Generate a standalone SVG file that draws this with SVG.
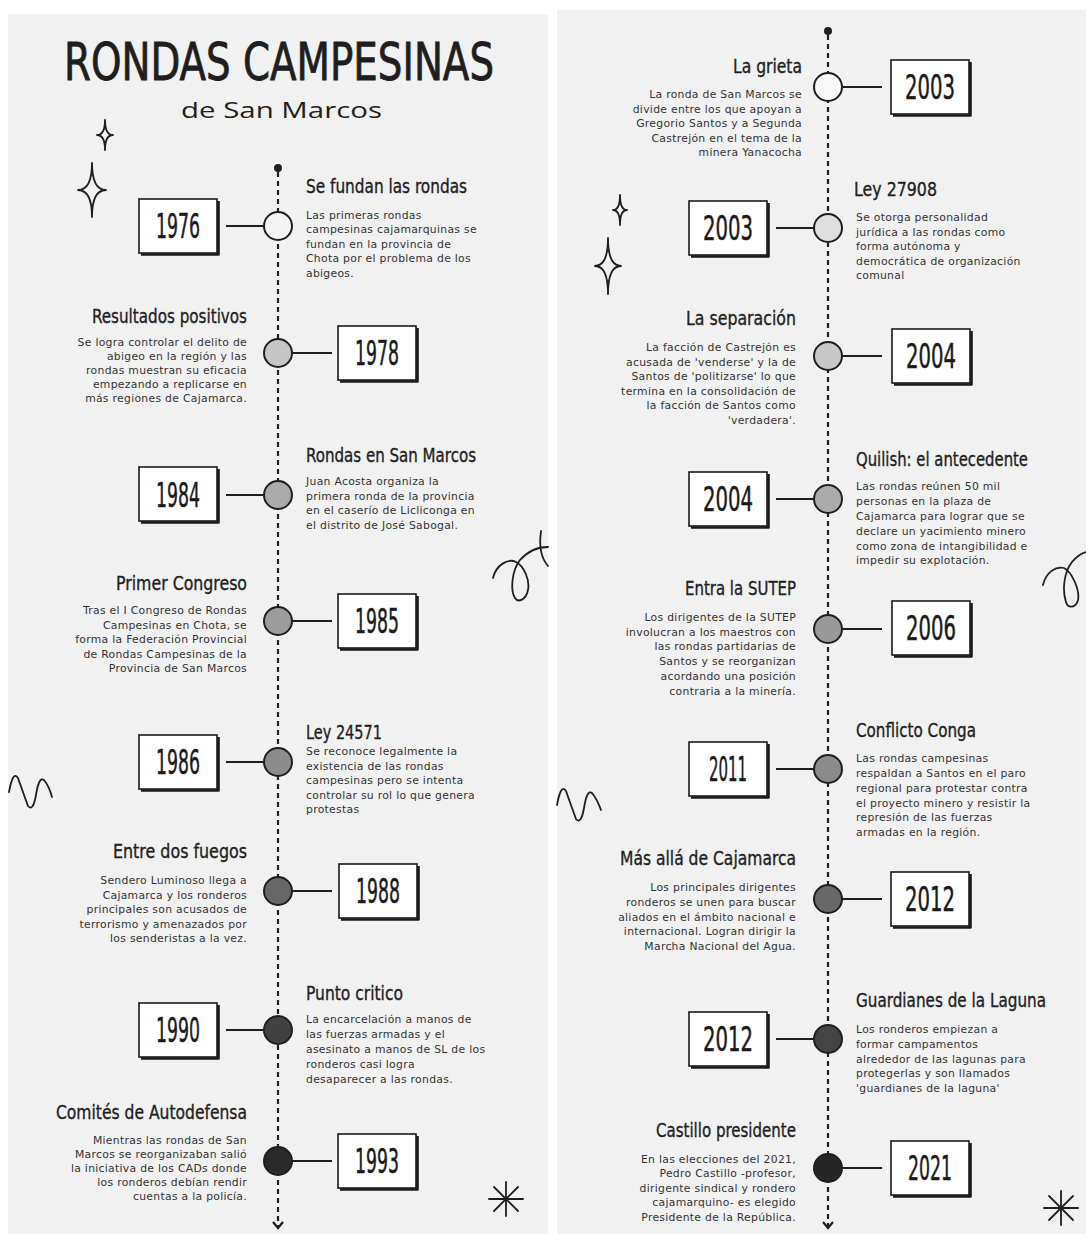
<svg xmlns="http://www.w3.org/2000/svg" width="1086" height="1234" viewBox="0 0 1086 1234">
<style>
.bg{fill:#f1f1f1}
.title{font-family:"Liberation Sans Narrow","DejaVu Sans Condensed","Liberation Sans",sans-serif;font-stretch:condensed;fill:#1e1e1e;stroke:#1e1e1e;stroke-width:0.8}
.sub{font-family:"Open Sans","Noto Sans",sans-serif;font-size:22px;fill:#1e1e1e}
.h{font-family:"Liberation Sans Narrow","DejaVu Sans Condensed","Liberation Sans",sans-serif;font-stretch:condensed;font-size:20px;fill:#1e1e1e;stroke:#1e1e1e;stroke-width:0.35}
.b{font-family:"DejaVu Sans","Noto Sans",sans-serif;font-size:10.8px;letter-spacing:0.3px;fill:#333333}
.r{text-anchor:end}
.yr{font-family:"Liberation Sans Narrow","DejaVu Sans Condensed","Liberation Sans",sans-serif;font-stretch:condensed;font-size:34px;fill:#1a1a1a;stroke:#1a1a1a;stroke-width:0.5;text-anchor:middle}
.box{fill:#fff;stroke:#1a1a1a;stroke-width:1.6}
.sh{fill:none;stroke:#1a1a1a;stroke-width:2.6;stroke-linejoin:round}
.dot{stroke:#1e1e1e;stroke-width:2}
.tl{stroke:#1e1e1e;stroke-width:2.2;stroke-dasharray:5 4;fill:none}
.cn{stroke:#1e1e1e;stroke-width:2.2;fill:none}
.deco{fill:none;stroke:#1e1e1e;stroke-width:1.8;stroke-linecap:round;stroke-linejoin:round}
</style>
<defs>
<g id="boxshape">
<rect class="box" x="0" y="0" width="78" height="54"/>
<polyline class="sh" points="79.5,2 79.5,55.5 2,55.5"/>
</g>
</defs>
<rect x="0" y="0" width="1086" height="1234" fill="#ffffff"/>
<rect class="bg" x="8" y="14" width="540" height="1220"/>
<rect class="bg" x="557" y="10" width="529" height="1224"/>

<!-- title -->
<g id="title">
<text class="title" x="64" y="80" font-size="52" textLength="430" lengthAdjust="spacingAndGlyphs">RONDAS CAMPESINAS</text>
<text class="sub" x="181" y="118" textLength="201" lengthAdjust="spacingAndGlyphs">de San Marcos</text>
</g>

<!-- decorations -->
<g id="decorations">
<path class="deco" d="M105,120 Q105,135 113,135 Q105,135 105,150 Q105,135 97,135 Q105,135 105,120 Z"/>
<path class="deco" d="M92,163 Q92,190 106,190 Q92,190 92,217 Q92,190 78,190 Q92,190 92,163 Z"/>
<path class="deco" d="M620,195 Q620,210 627,210 Q620,210 620,225 Q620,210 613,210 Q620,210 620,195 Z"/>
<path class="deco" d="M608,238 Q608,266 621,266 Q608,266 608,294 Q608,266 595,266 Q608,266 608,238 Z"/>
<path class="deco" d="M493,578 C496,565 508,558 516,562 C524,566 530,580 528,590 C526,600 518,603 515,598 C510,590 512,570 520,560 C528,551 538,547 548,547"/>
<path class="deco" d="M541,531 C539,545 541,558 548,566"/>
<path class="deco" d="M1043,585 C1046,572 1056,566 1064,568 C1072,572 1080,590 1078,600 C1076,608 1068,609 1066,602 C1062,590 1064,572 1072,562 C1077,556 1082,553 1086,552"/>
<path class="deco" d="M9,792 Q13,770 18,778 Q24,795 28,806 Q33,812 36,795 Q39,776 44,780 Q49,786 52,797"/>
<path class="deco" d="M557,805 Q561,783 566,791 Q572,808 576,819 Q581,825 584,808 Q587,789 592,793 Q597,799 601,810"/>
<g class="deco">
<line x1="489" y1="1199" x2="523" y2="1199"/>
<line x1="506" y1="1182" x2="506" y2="1216"/>
<line x1="494" y1="1187" x2="518" y2="1211"/>
<line x1="518" y1="1187" x2="494" y2="1211"/>
</g>
<g class="deco">
<line x1="1044" y1="1208" x2="1078" y2="1208"/>
<line x1="1061" y1="1191" x2="1061" y2="1225"/>
<line x1="1049" y1="1196" x2="1073" y2="1220"/>
<line x1="1073" y1="1196" x2="1049" y2="1220"/>
</g>
</g>

<!-- connectors -->
<g id="connectors">
<line class="tl" x1="278" y1="172" x2="278" y2="1226"/>
<circle cx="278" cy="168" r="4" fill="#1e1e1e"/>
<path class="cn" d="M273,1222 L278,1228 L283,1222"/>
<line class="tl" x1="828" y1="35" x2="828" y2="1226"/>
<circle cx="828" cy="31" r="4" fill="#1e1e1e"/>
<path class="cn" d="M823,1222 L828,1228 L833,1222"/>
<line class="cn" x1="226" y1="226" x2="264" y2="226"/>
<line class="cn" x1="292" y1="353" x2="332" y2="353"/>
<line class="cn" x1="226" y1="495" x2="264" y2="495"/>
<line class="cn" x1="292" y1="621" x2="332" y2="621"/>
<line class="cn" x1="226" y1="762" x2="264" y2="762"/>
<line class="cn" x1="292" y1="891" x2="332" y2="891"/>
<line class="cn" x1="226" y1="1030" x2="264" y2="1030"/>
<line class="cn" x1="292" y1="1161" x2="332" y2="1161"/>
<line class="cn" x1="842" y1="87" x2="882" y2="87"/>
<line class="cn" x1="776" y1="228" x2="814" y2="228"/>
<line class="cn" x1="842" y1="356" x2="882" y2="356"/>
<line class="cn" x1="776" y1="499" x2="814" y2="499"/>
<line class="cn" x1="842" y1="629" x2="882" y2="629"/>
<line class="cn" x1="776" y1="769" x2="814" y2="769"/>
<line class="cn" x1="842" y1="899" x2="882" y2="899"/>
<line class="cn" x1="776" y1="1039" x2="814" y2="1039"/>
<line class="cn" x1="842" y1="1168" x2="882" y2="1168"/>
</g>

<!-- LEFT PANEL EVENTS -->
<g id="e1976">
<use href="#boxshape" x="139" y="199"/>
<text class="yr" x="178" y="238" textLength="44" lengthAdjust="spacingAndGlyphs">1976</text>
<circle class="dot" cx="278" cy="226" r="14" fill="#f3f3f3"/>
<text class="h" x="306" y="193" textLength="161" lengthAdjust="spacingAndGlyphs">Se fundan las rondas</text>
<text class="b" x="306" y="219">Las primeras rondas</text>
<text class="b" x="306" y="233">campesinas cajamarquinas se</text>
<text class="b" x="306" y="247.5">fundan en la provincia de</text>
<text class="b" x="306" y="262">Chota por el problema de los</text>
<text class="b" x="306" y="276.5">abigeos.</text>
</g>

<g id="e1978">
<use href="#boxshape" x="338" y="326"/>
<text class="yr" x="377" y="365" textLength="44" lengthAdjust="spacingAndGlyphs">1978</text>
<circle class="dot" cx="278" cy="353" r="14" fill="#c6c6c6"/>
<text class="h r" x="247" y="323" textLength="155" lengthAdjust="spacingAndGlyphs">Resultados positivos</text>
<text class="b r" x="247" y="346">Se logra controlar el delito de</text>
<text class="b r" x="247" y="360">abigeo en la región y las</text>
<text class="b r" x="247" y="374">rondas muestran su eficacia</text>
<text class="b r" x="247" y="388">empezando a replicarse en</text>
<text class="b r" x="247" y="402">más regiones de Cajamarca.</text>
</g>

<g id="e1984">
<use href="#boxshape" x="139" y="467"/>
<text class="yr" x="178" y="507" textLength="44" lengthAdjust="spacingAndGlyphs">1984</text>
<circle class="dot" cx="278" cy="495" r="14" fill="#ababab"/>
<text class="h" x="306" y="462" textLength="170" lengthAdjust="spacingAndGlyphs">Rondas en San Marcos</text>
<text class="b" x="306" y="485">Juan Acosta organiza la</text>
<text class="b" x="306" y="499.5">primera ronda de la provincia</text>
<text class="b" x="306" y="514">en el caserío de Licliconga en</text>
<text class="b" x="306" y="528.5">el distrito de José Sabogal.</text>
</g>

<g id="e1985">
<use href="#boxshape" x="338" y="594"/>
<text class="yr" x="377" y="633" textLength="44" lengthAdjust="spacingAndGlyphs">1985</text>
<circle class="dot" cx="278" cy="621" r="14" fill="#9c9c9c"/>
<text class="h r" x="247" y="590" textLength="131" lengthAdjust="spacingAndGlyphs">Primer Congreso</text>
<text class="b r" x="247" y="614">Tras el I Congreso de Rondas</text>
<text class="b r" x="247" y="628.5">Campesinas en Chota, se</text>
<text class="b r" x="247" y="643">forma la Federación Provincial</text>
<text class="b r" x="247" y="657.5">de Rondas Campesinas de la</text>
<text class="b r" x="247" y="672">Provincia de San Marcos</text>
</g>

<g id="e1986">
<use href="#boxshape" x="139" y="735"/>
<text class="yr" x="178" y="774" textLength="44" lengthAdjust="spacingAndGlyphs">1986</text>
<circle class="dot" cx="278" cy="762" r="14" fill="#8c8c8c"/>
<text class="h" x="306" y="739" textLength="76" lengthAdjust="spacingAndGlyphs">Ley 24571</text>
<text class="b" x="306" y="755">Se reconoce legalmente la</text>
<text class="b" x="306" y="769.5">existencia de las rondas</text>
<text class="b" x="306" y="784">campesinas pero se intenta</text>
<text class="b" x="306" y="798.5">controlar su rol lo que genera</text>
<text class="b" x="306" y="813">protestas</text>
</g>

<g id="e1988">
<use href="#boxshape" x="339" y="864"/>
<text class="yr" x="378" y="903" textLength="44" lengthAdjust="spacingAndGlyphs">1988</text>
<circle class="dot" cx="278" cy="891" r="14" fill="#676767"/>
<text class="h r" x="247" y="858" textLength="134" lengthAdjust="spacingAndGlyphs">Entre dos fuegos</text>
<text class="b r" x="247" y="884">Sendero Luminoso llega a</text>
<text class="b r" x="247" y="898.5">Cajamarca y los ronderos</text>
<text class="b r" x="247" y="913">principales son acusados de</text>
<text class="b r" x="247" y="927.5">terrorismo y amenazados por</text>
<text class="b r" x="247" y="942">los senderistas a la vez.</text>
</g>

<g id="e1990">
<use href="#boxshape" x="139" y="1003"/>
<text class="yr" x="178" y="1042" textLength="44" lengthAdjust="spacingAndGlyphs">1990</text>
<circle class="dot" cx="278" cy="1030" r="14" fill="#414141"/>
<text class="h" x="306" y="1000" textLength="97" lengthAdjust="spacingAndGlyphs">Punto critico</text>
<text class="b" x="306" y="1023">La encarcelación a manos de</text>
<text class="b" x="306" y="1038">las fuerzas armadas y el</text>
<text class="b" x="306" y="1053">asesinato a manos de SL de los</text>
<text class="b" x="306" y="1068">ronderos casi logra</text>
<text class="b" x="306" y="1083">desaparecer a las rondas.</text>
</g>

<g id="e1993">
<use href="#boxshape" x="338" y="1134"/>
<text class="yr" x="377" y="1173" textLength="44" lengthAdjust="spacingAndGlyphs">1993</text>
<circle class="dot" cx="278" cy="1161" r="14" fill="#2a2a2a"/>
<text class="h r" x="247" y="1119" textLength="191" lengthAdjust="spacingAndGlyphs">Comités de Autodefensa</text>
<text class="b r" x="247" y="1144">Mientras las rondas de San</text>
<text class="b r" x="247" y="1158">Marcos se reorganizaban salió</text>
<text class="b r" x="247" y="1172">la iniciativa de los CADs donde</text>
<text class="b r" x="247" y="1186">los ronderos debían rendir</text>
<text class="b r" x="247" y="1200">cuentas a la policía.</text>
</g>

<!-- RIGHT PANEL EVENTS -->
<g id="e2003a">
<use href="#boxshape" x="891" y="60"/>
<text class="yr" x="930" y="99" textLength="50" lengthAdjust="spacingAndGlyphs">2003</text>
<circle class="dot" cx="828" cy="87" r="14" fill="#f8f8f8"/>
<text class="h r" x="802" y="73" textLength="69" lengthAdjust="spacingAndGlyphs">La grieta</text>
<text class="b r" x="802" y="98">La ronda de San Marcos se</text>
<text class="b r" x="802" y="112.5">divide entre los que apoyan a</text>
<text class="b r" x="802" y="127">Gregorio Santos y a Segunda</text>
<text class="b r" x="802" y="141.5">Castrejón en el tema de la</text>
<text class="b r" x="802" y="156">minera Yanacocha</text>
</g>

<g id="e2003b">
<use href="#boxshape" x="689" y="201"/>
<text class="yr" x="728" y="240" textLength="50" lengthAdjust="spacingAndGlyphs">2003</text>
<circle class="dot" cx="828" cy="228" r="14" fill="#dedede"/>
<text class="h" x="854" y="196" textLength="83" lengthAdjust="spacingAndGlyphs">Ley 27908</text>
<text class="b" x="856" y="221">Se otorga personalidad</text>
<text class="b" x="856" y="235.5">jurídica a las rondas como</text>
<text class="b" x="856" y="250">forma autónoma y</text>
<text class="b" x="856" y="264.5">democrática de organización</text>
<text class="b" x="856" y="279">comunal</text>
</g>

<g id="e2004a">
<use href="#boxshape" x="892" y="329"/>
<text class="yr" x="931" y="368" textLength="50" lengthAdjust="spacingAndGlyphs">2004</text>
<circle class="dot" cx="828" cy="356" r="14" fill="#c8c8c8"/>
<text class="h r" x="796" y="325" textLength="110" lengthAdjust="spacingAndGlyphs">La separación</text>
<text class="b r" x="796" y="351">La facción de Castrejón es</text>
<text class="b r" x="796" y="365.5">acusada de 'venderse' y la de</text>
<text class="b r" x="796" y="380">Santos de 'politizarse' lo que</text>
<text class="b r" x="796" y="394.5">termina en la consolidación de</text>
<text class="b r" x="796" y="409">la facción de Santos como</text>
<text class="b r" x="796" y="423.5">'verdadera'.</text>
</g>

<g id="e2004b">
<use href="#boxshape" x="689" y="472"/>
<text class="yr" x="728" y="511" textLength="50" lengthAdjust="spacingAndGlyphs">2004</text>
<circle class="dot" cx="828" cy="499" r="14" fill="#ababab"/>
<text class="h" x="856" y="466" textLength="172" lengthAdjust="spacingAndGlyphs">Quilish: el antecedente</text>
<text class="b" x="856" y="490">Las rondas reúnen 50 mil</text>
<text class="b" x="856" y="505">personas en la plaza de</text>
<text class="b" x="856" y="520">Cajamarca para lograr que se</text>
<text class="b" x="856" y="535">declare un yacimiento minero</text>
<text class="b" x="856" y="549.5">como zona de intangibilidad e</text>
<text class="b" x="856" y="564">impedir su explotación.</text>
</g>

<g id="e2006">
<use href="#boxshape" x="892" y="601"/>
<text class="yr" x="931" y="640" textLength="50" lengthAdjust="spacingAndGlyphs">2006</text>
<circle class="dot" cx="828" cy="629" r="14" fill="#999999"/>
<text class="h r" x="796" y="595" textLength="111" lengthAdjust="spacingAndGlyphs">Entra la SUTEP</text>
<text class="b r" x="796" y="621">Los dirigentes de la SUTEP</text>
<text class="b r" x="796" y="635.5">involucran a los maestros con</text>
<text class="b r" x="796" y="650">las rondas partidarias de</text>
<text class="b r" x="796" y="665">Santos y se reorganizan</text>
<text class="b r" x="796" y="680">acordando una posición</text>
<text class="b r" x="796" y="694.5">contraria a la minería.</text>
</g>

<g id="e2011">
<use href="#boxshape" x="689" y="742"/>
<text class="yr" x="728" y="781" textLength="38" lengthAdjust="spacingAndGlyphs">2011</text>
<circle class="dot" cx="828" cy="769" r="14" fill="#8b8b8b"/>
<text class="h" x="856" y="737" textLength="120" lengthAdjust="spacingAndGlyphs">Conflicto Conga</text>
<text class="b" x="856" y="762">Las rondas campesinas</text>
<text class="b" x="856" y="777">respaldan a Santos en el paro</text>
<text class="b" x="856" y="792">regional para protestar contra</text>
<text class="b" x="856" y="806.5">el proyecto minero y resistir la</text>
<text class="b" x="856" y="821">represión de las fuerzas</text>
<text class="b" x="856" y="836">armadas en la región.</text>
</g>

<g id="e2012a">
<use href="#boxshape" x="891" y="872"/>
<text class="yr" x="930" y="911" textLength="50" lengthAdjust="spacingAndGlyphs">2012</text>
<circle class="dot" cx="828" cy="899" r="14" fill="#686868"/>
<text class="h r" x="796" y="865" textLength="176" lengthAdjust="spacingAndGlyphs">Más allá de Cajamarca</text>
<text class="b r" x="796" y="891">Los principales dirigentes</text>
<text class="b r" x="796" y="906">ronderos se unen para buscar</text>
<text class="b r" x="796" y="920.5">aliados en el ámbito nacional e</text>
<text class="b r" x="796" y="935">internacional. Logran dirigir la</text>
<text class="b r" x="796" y="950">Marcha Nacional del Agua.</text>
</g>

<g id="e2012b">
<use href="#boxshape" x="689" y="1012"/>
<text class="yr" x="728" y="1051" textLength="50" lengthAdjust="spacingAndGlyphs">2012</text>
<circle class="dot" cx="828" cy="1039" r="14" fill="#444444"/>
<text class="h" x="856" y="1007" textLength="190" lengthAdjust="spacingAndGlyphs">Guardianes de la Laguna</text>
<text class="b" x="856" y="1033">Los ronderos empiezan a</text>
<text class="b" x="856" y="1048">formar campamentos</text>
<text class="b" x="856" y="1062.5">alrededor de las lagunas para</text>
<text class="b" x="856" y="1077">protegerlas y son llamados</text>
<text class="b" x="856" y="1091.5">'guardianes de la laguna'</text>
</g>

<g id="e2021">
<use href="#boxshape" x="891" y="1141"/>
<text class="yr" x="930" y="1180" textLength="44" lengthAdjust="spacingAndGlyphs">2021</text>
<circle class="dot" cx="828" cy="1168" r="14" fill="#262626"/>
<text class="h r" x="796" y="1137" textLength="140" lengthAdjust="spacingAndGlyphs">Castillo presidente</text>
<text class="b r" x="796" y="1163">En las elecciones del 2021,</text>
<text class="b r" x="796" y="1177">Pedro Castillo -profesor,</text>
<text class="b r" x="796" y="1191.5">dirigente sindical y rondero</text>
<text class="b r" x="796" y="1206">cajamarquino- es elegido</text>
<text class="b r" x="796" y="1220.5">Presidente de la República.</text>
</g>
</svg>
